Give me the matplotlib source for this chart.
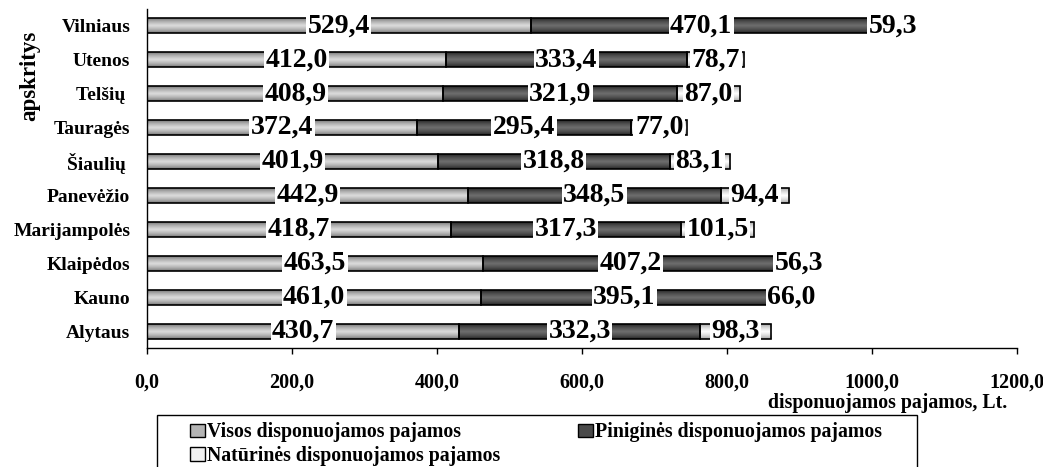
import numpy as np
import matplotlib
matplotlib.use("Agg")
import matplotlib.pyplot as plt
from matplotlib.colors import LinearSegmentedColormap
from matplotlib.patches import Patch, Rectangle

plt.rcParams.update({
    "font.family": ["Liberation Serif", "DejaVu Serif"],
    "font.weight": "bold",
    "axes.linewidth": 1.0,
})

# bottom -> top, as in the chart
apskritys = ["Alytaus", "Kauno", "Klaipėdos", "Marijampolės", "Panevėžio",
             "Šiaulių ", "Tauragės", "Telšių ", "Utenos", "Vilniaus"]
visos = [430.7, 461.0, 463.5, 418.7, 442.9, 401.9, 372.4, 408.9, 412.0, 529.4]
pinigines = [332.3, 395.1, 407.2, 317.3, 348.5, 318.8, 295.4, 321.9, 333.4, 470.1]
naturines = [98.3, 66.0, 56.3, 101.5, 94.4, 83.1, 77.0, 87.0, 78.7, 59.3]
serijos = ["Visos disponuojamos pajamos", "Piniginės disponuojamos pajamos",
           "Natūrinės disponuojamos pajamos"]
xticks = [0, 200, 400, 600, 800, 1000, 1200]

# (edge shade, centre shade) of the banded fill
SHADES = [("#666666", "#dcdcdc"), ("#181818", "#6e6e6e"), ("#999999", "#ffffff")]


def lt(v):
    return f"{v:.1f}".replace(".", ",")


def gradient_fill(ax, bars, edge, centre):
    cmap = LinearSegmentedColormap.from_list("g", [edge, centre])
    t = np.linspace(0, 1, 40)
    g = (1 - np.abs(2 * t - 1)) ** 0.6
    for p in bars.patches:
        x0, y0, w, h = p.get_x(), p.get_y(), p.get_width(), p.get_height()
        im = ax.imshow(g[:, None], extent=[x0, x0 + w, y0, y0 + h], origin="lower",
                       aspect="auto", cmap=cmap, vmin=0, vmax=1,
                       interpolation="bilinear", zorder=1.5)
        im.set_clip_path(p)


fig = plt.figure(figsize=(10.43, 4.67), dpi=100)
ax = fig.add_axes([147 / 1043, 1 - 348 / 467, 870 / 1043, 339 / 467])

y = np.arange(len(apskritys))
left = np.zeros(len(y))
for vals, (edge, centre) in zip([visos, pinigines, naturines], SHADES):
    bars = ax.barh(y, vals, left=left, height=0.44, facecolor="none",
                   edgecolor="black", linewidth=1.2, zorder=2)
    gradient_fill(ax, bars, edge, centre)
    ax.bar_label(bars, labels=[lt(v) for v in vals], label_type="center",
                 fontsize=20, fontweight="bold", zorder=4,
                 bbox=dict(facecolor="white", edgecolor="none", pad=1.0))
    left = left + np.array(vals)

ax.set_xlim(0, 1200)
ax.set_ylim(-0.5, 9.5)
ax.set_xticks(xticks, labels=[lt(v) for v in xticks])
ax.set_yticks(y, labels=apskritys)
ax.tick_params(axis="x", direction="out", length=4.5, width=1, pad=13, labelsize=14.5)
ax.tick_params(axis="y", length=0, pad=12, labelsize=14)
ax.spines[["top", "right"]].set_visible(False)

fig.text(0.029, 1 - 76 / 467, "apskritys", rotation=90, ha="center", va="center",
         fontsize=16.5, fontweight="bold")
fig.text(1007 / 1043, 1 - 403 / 467, "disponuojamos pajamos, Lt.", ha="right",
         va="center", fontsize=14.3, fontweight="bold")

# legend is filled column-wise, so order the handles for rows:
# Visos | Piniginės  /  Natūrinės
colors = ["#b4b4b4", "#4a4a4a", "#f0f0f0"]
order = [0, 2, 1]
handles = [Patch(facecolor=colors[i], edgecolor="black", linewidth=1) for i in order]
fig.legend(handles, [serijos[i] for i in order], loc="upper left", ncol=2, mode="expand",
           bbox_to_anchor=(190 / 1043, 1 - 427 / 467, 692 / 1043, 0.01),
           frameon=False, fontsize=14.3, borderpad=0, borderaxespad=0,
           handlelength=0.75, handleheight=0.65, handletextpad=0.12,
           labelspacing=0.18, columnspacing=1.0)
fig.patches.append(Rectangle((157 / 1043, -0.05), 760 / 1043, 0.05 + 1 - 415 / 467,
                             transform=fig.transFigure, fill=False,
                             edgecolor="black", linewidth=1))

fig.savefig("out.png", dpi=100, facecolor="white")
